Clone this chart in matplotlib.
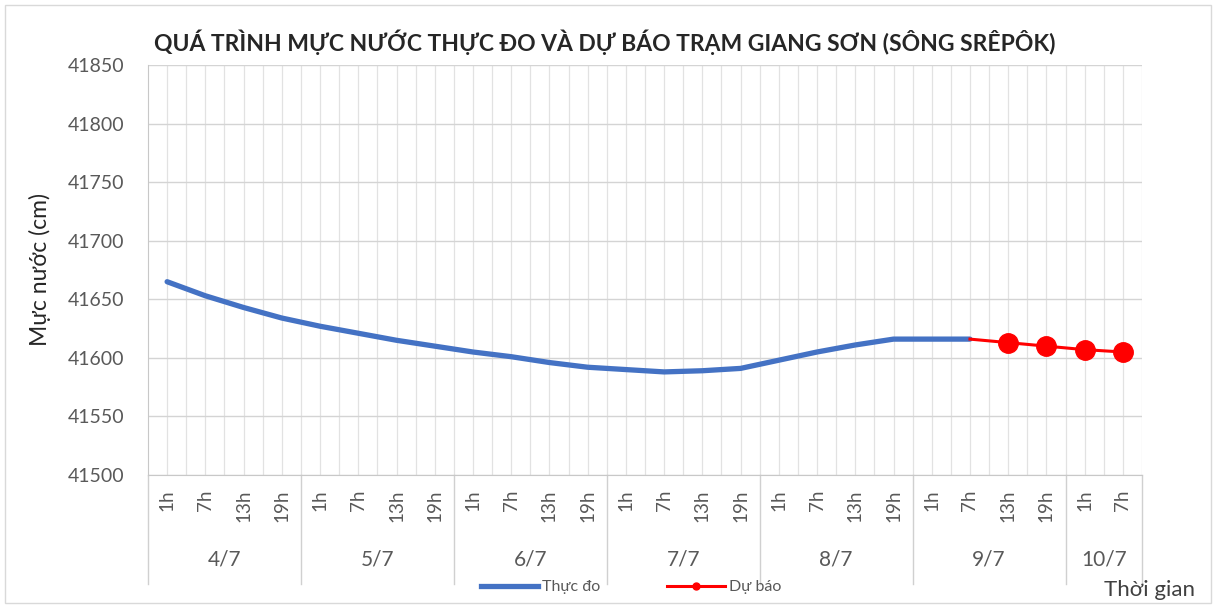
import matplotlib
matplotlib.use("Agg")
import matplotlib.pyplot as plt
from matplotlib.lines import Line2D
from matplotlib.patches import Rectangle
import numpy as np

plt.rcParams["font.family"] = ["Lato", "DejaVu Sans"]

# --- data --------------------------------------------------------------------
DAYS = ["4/7", "5/7", "6/7", "7/7", "8/7", "9/7", "10/7"]
DAY_HOURS = [
    ["1h", "7h", "13h", "19h"],
    ["1h", "7h", "13h", "19h"],
    ["1h", "7h", "13h", "19h"],
    ["1h", "7h", "13h", "19h"],
    ["1h", "7h", "13h", "19h"],
    ["1h", "7h", "13h", "19h"],
    ["1h", "7h"],
]
# water level (cm), observed: 4/7 1h .. 9/7 7h
OBSERVED = [41665, 41653, 41643, 41634, 41627, 41621, 41615, 41610,
            41605, 41601, 41596, 41592, 41590, 41588, 41589, 41591,
            41598, 41605, 41611, 41616, 41616, 41616]
# forecast: 9/7 7h .. 10/7 7h (first point joins the observed curve)
FORECAST = [41616, 41613, 41610, 41607, 41605]
FORECAST_START = 21

TITLE = "QUÁ TRÌNH MỰC NƯỚC THỰC ĐO VÀ DỰ BÁO TRẠM GIANG SƠN (SÔNG SRÊPÔK)"
YLABEL = "Mực nước (cm)"
XLABEL = "Thời gian"
LEGEND = ["Thực đo", "Dự báo"]

BLUE = "#4472C4"
RED = "#FF0000"
GRID = "#e2e2e2"
TXT = "#595959"

hours = [h for day in DAY_HOURS for h in day]
n = len(hours)

fig = plt.figure(figsize=(12.16, 6.08), dpi=100)
ax = fig.add_axes([148 / 1216, 1 - 475 / 608, (1142 - 148) / 1216, (475 - 65) / 608])

x_obs = np.arange(len(OBSERVED))
x_fc = np.arange(FORECAST_START, FORECAST_START + len(FORECAST))
ax.plot(x_obs, OBSERVED, color=BLUE, lw=3.8, solid_capstyle="round",
        solid_joinstyle="round", zorder=3)
ax.plot(x_fc, FORECAST, color=RED, lw=2.2, zorder=4)
ax.plot(x_fc[1:], FORECAST[1:], "o", color=RED, ms=14, zorder=5)

ax.set_xlim(-0.5, n - 0.5)
ax.set_ylim(41500, 41850)
ax.set_yticks(range(41500, 41851, 50))
ax.set_xticks([])
ax.grid(axis="y", color="#d4d4d4", lw=1.0, zorder=0)
for v in np.arange(0.0, n - 0.5, 0.5):
    ax.axvline(v, color=GRID, lw=0.9, zorder=0)
ax.axvline(n - 0.5, color=GRID, lw=0.9, zorder=0)

for s in ("top", "right"):
    ax.spines[s].set_visible(False)
ax.spines["left"].set_color("#c8c8c8")
ax.spines["bottom"].set_color("#c8c8c8")
ax.tick_params(axis="y", length=0, pad=17, labelsize=14, labelcolor=TXT)

ax.set_ylabel(YLABEL, fontsize=16.5, color="#262626", labelpad=12)

# two-level category axis
tr = ax.get_xaxis_transform()
for i, h in enumerate(hours):
    ax.text(i, -0.035, h, transform=tr, rotation=90, ha="center", va="top",
            fontsize=13.5, color=TXT)
start = 0
bounds = [-0.5]
for day, hs in zip(DAYS, DAY_HOURS):
    mid = start + (len(hs) - 1) / 2
    ax.text(mid, -0.205, day, transform=tr, ha="center", va="center",
            fontsize=15, color=TXT)
    start += len(hs)
    bounds.append(start - 0.5)
for b in bounds:
    ax.plot([b, b], [0, -0.265], transform=tr, color="#d0d0d0", lw=1.0,
            clip_on=False)

fig.text(605 / 1216, 1 - 42 / 608, TITLE, ha="center", va="center",
         fontsize=16.5, fontweight="bold", color="#262626")
fig.text(1150 / 1216, 1 - 590 / 608, XLABEL, ha="center", va="center",
         fontsize=16, color="#404040")

handles = [Line2D([], [], color=BLUE, lw=3.8),
           Line2D([], [], color=RED, lw=2.2, marker="o", ms=5)]
fig.legend(handles, LEGEND, loc="center", bbox_to_anchor=(631 / 1216, 1 - 587 / 608),
           ncol=2, frameon=False, fontsize=11.5, handlelength=3.6,
           handletextpad=0.25, columnspacing=4.2, labelcolor=TXT)

fig.patches.append(Rectangle((5 / 1216, 5 / 608), 1206 / 1216, 598 / 608,
                             transform=fig.transFigure, fill=False,
                             edgecolor="#d9d9d9", lw=1.0))

fig.savefig("out.png", dpi=100)
